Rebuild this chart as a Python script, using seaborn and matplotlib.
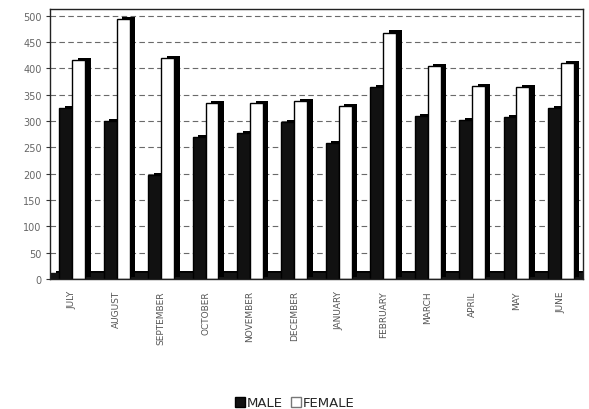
import matplotlib
matplotlib.use("Agg")
import matplotlib.pyplot as plt
import matplotlib.patheffects as pe
from matplotlib.patches import Patch
import matplotlib.transforms as mtransforms
import seaborn as sns
import pandas as pd

months = ["JULY", "AUGUST", "SEPTEMBER", "OCTOBER", "NOVEMBER", "DECEMBER",
          "JANUARY", "FEBRUARY", "MARCH", "APRIL", "MAY", "JUNE"]
male = [325, 300, 198, 270, 278, 298, 258, 365, 310, 302, 307, 325]
female = [415, 493, 420, 335, 335, 338, 328, 468, 405, 367, 364, 410]
yticks = [0, 50, 100, 150, 200, 250, 300, 350, 400, 450, 500]

df = pd.DataFrame({
    "month": months * 2,
    "count": male + female,
    "sex": ["MALE"] * len(months) + ["FEMALE"] * len(months),
})

sns.set_theme(style="white")
plt.rcParams["font.family"] = ["DejaVu Sans"]

fig = plt.figure(figsize=(5.89, 4.10), dpi=100)
ax = fig.add_axes([0.085, 0.317, 0.905, 0.659])

# dashed gridlines on the back wall
for v in yticks[1:]:
    ax.axhline(v, color="#6a6a6a", lw=0.8, ls=(0, (5, 3)), zorder=0)

# dark floor strip
ax.axhspan(0, 12, color="#151515", zorder=0.5)

sns.barplot(data=df, x="month", y="count", hue="sex", order=months,
            hue_order=["MALE", "FEMALE"],
            palette={"MALE": "#111111", "FEMALE": "#ffffff"},
            width=0.58, gap=0, edgecolor="black", linewidth=1.0,
            legend=False, ax=ax, zorder=2)

# side faces of the bars as an offset dark shadow
for p in ax.patches:
    p.set_path_effects([pe.SimplePatchShadow(offset=(4, 1.5),
                                             shadow_rgbFace="black", alpha=1.0),
                        pe.Normal()])

ax.set_xlim(-0.5, len(months) - 0.5)
ax.set_ylim(0, 513)
ax.set_yticks(yticks)
ax.set_yticklabels([str(v) for v in yticks], fontsize=7, color="#666666")
ax.set_xticks(range(len(months)))
ax.set_xticklabels(months, rotation=90, fontsize=6.5, color="#555555",
                   va="top", ha="center")
offset = mtransforms.ScaledTranslation(-10 / 100, 0, fig.dpi_scale_trans)
for lab in ax.get_xticklabels():
    lab.set_transform(lab.get_transform() + offset)
ax.tick_params(axis="x", length=0, pad=8)
ax.tick_params(axis="y", length=3, width=0.8, color="#333333", left=True,
               pad=3)
ax.set_xlabel("")
ax.set_ylabel("")

for side in ["top", "right", "left", "bottom"]:
    ax.spines[side].set_visible(True)
    ax.spines[side].set_color("#222222")
    ax.spines[side].set_linewidth(1.0)

handles = [Patch(facecolor="#111111", edgecolor="black", label="MALE"),
           Patch(facecolor="#ffffff", edgecolor="#777777", label="FEMALE")]
fig.legend(handles=handles, loc="center", bbox_to_anchor=(0.5, 0.015),
           ncol=2, frameon=False, fontsize=9.5, handlelength=0.8,
           handleheight=0.8, handletextpad=0.1, columnspacing=0.6)

fig.savefig("out.png", dpi=100)
